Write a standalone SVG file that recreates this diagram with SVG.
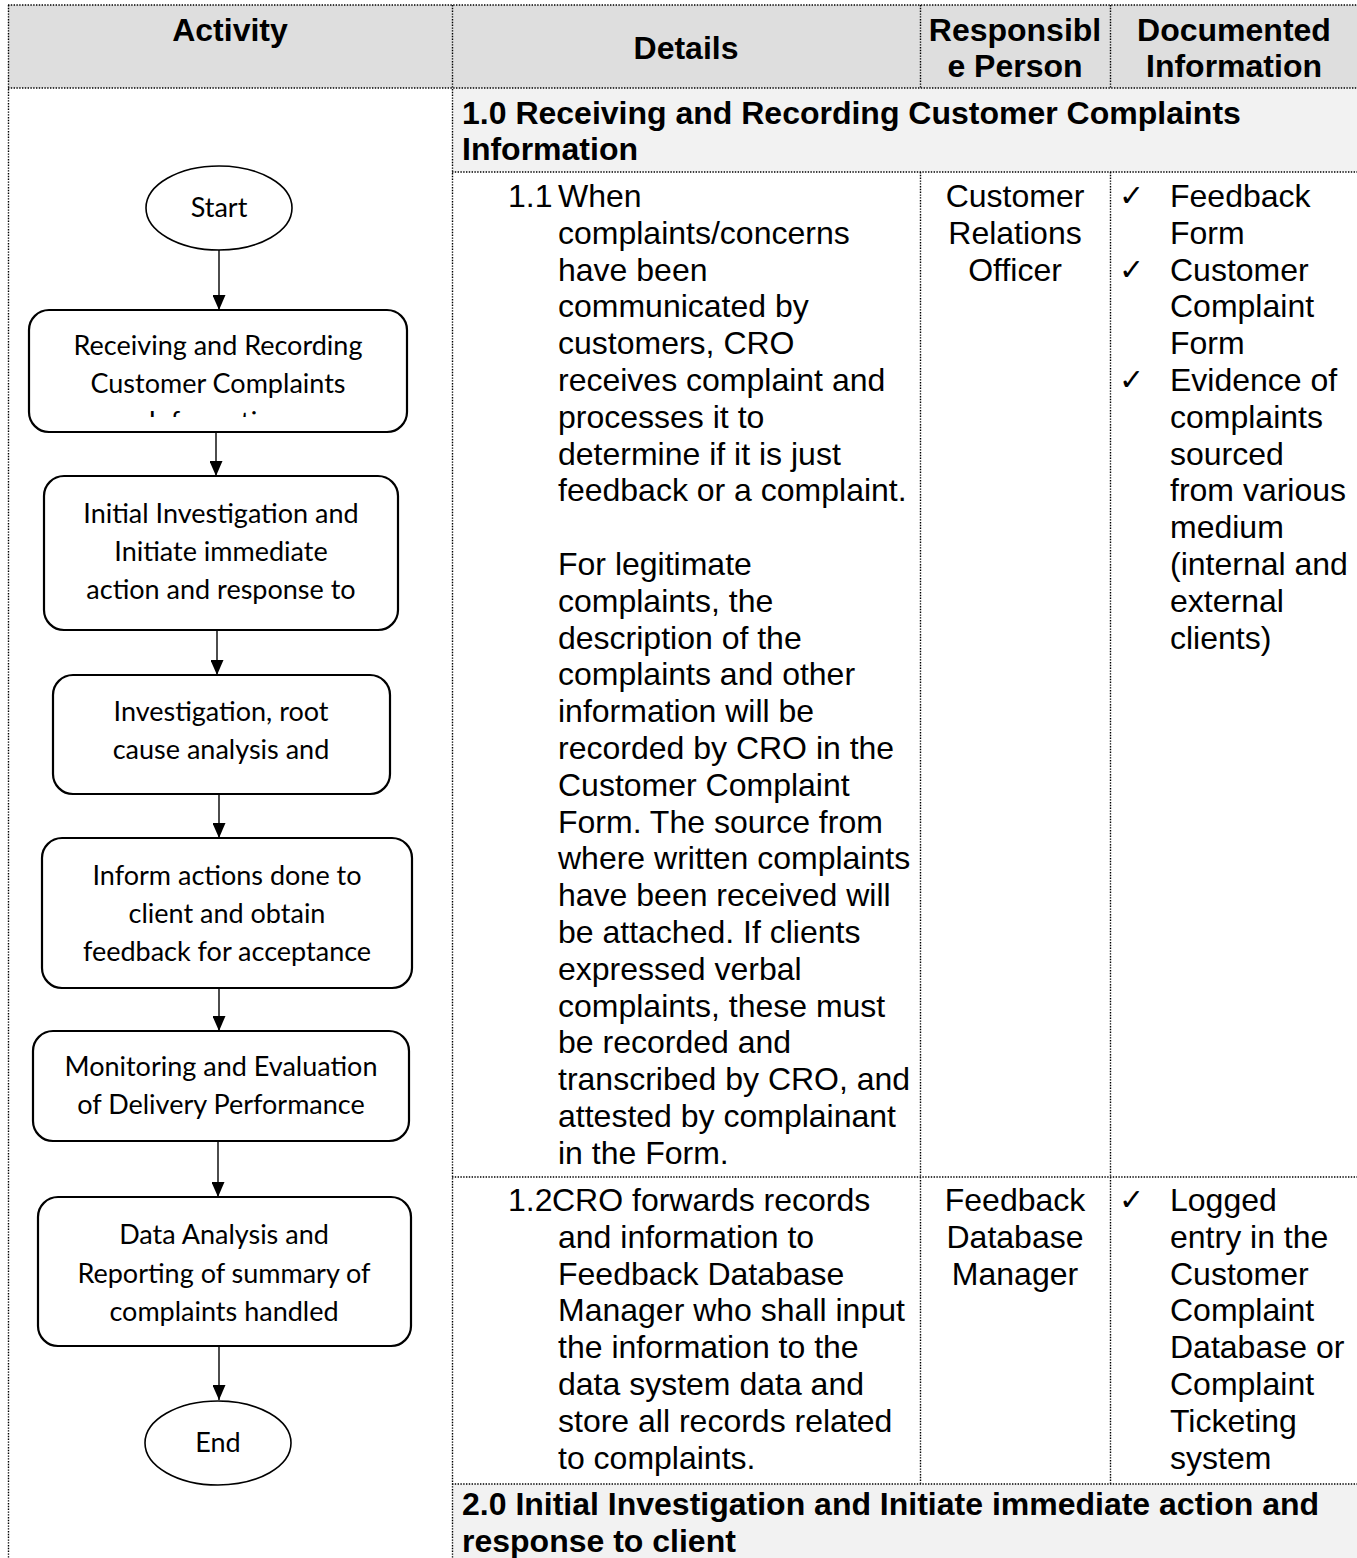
<svg xmlns="http://www.w3.org/2000/svg" width="1357" height="1558" viewBox="0 0 1357 1558">
<style>
.grid{stroke:#000;stroke-width:1.4;stroke-dasharray:1.4 1.4;fill:none}
.hdr{font-family:"Liberation Sans",Arial,sans-serif;font-size:32px;font-weight:bold;fill:#000}
.t{font-family:"Liberation Sans",Arial,sans-serif;font-size:32px;fill:#000}
.c{text-anchor:middle}
.chk{font-family:"DejaVu Sans",sans-serif;font-size:30px;fill:#000}
.fc{font-family:Lato,"Open Sans",sans-serif;font-size:27px;fill:#000;text-anchor:middle}
.box{fill:#fff;stroke:#000;stroke-width:2.2}
.ell{fill:#fff;stroke:#000;stroke-width:1.6}
.conn{stroke:#000;stroke-width:1.4;fill:none}
</style>
<defs>
<marker id="ah" viewBox="0 0 15 13" refX="15" refY="6.5" markerWidth="15" markerHeight="13" markerUnits="userSpaceOnUse" orient="auto">
<path d="M0,0 L15,6.5 L0,13 z" fill="#000"/>
</marker>
<clipPath id="clip1"><rect x="28" y="310" width="380" height="107"/></clipPath>
<clipPath id="clip2"><rect x="44" y="476" width="354" height="140"/></clipPath>
<clipPath id="clip3"><rect x="53" y="675" width="337" height="104"/></clipPath>
</defs>
<rect width="1357" height="1558" fill="#fff"/>
<g id="table">
<rect x="8" y="5" width="1349" height="83" fill="#dedede"/>
<rect x="452" y="88" width="905" height="84" fill="#f2f2f2"/>
<rect x="452" y="1484" width="905" height="74" fill="#f2f2f2"/>
<line class="grid" x1="8" y1="5" x2="1357" y2="5"/>
<line class="grid" x1="8" y1="88" x2="1357" y2="88"/>
<line class="grid" x1="452" y1="172" x2="1357" y2="172"/>
<line class="grid" x1="452" y1="1177" x2="1357" y2="1177"/>
<line class="grid" x1="452" y1="1484" x2="1357" y2="1484"/>
<line class="grid" x1="8.5" y1="5" x2="8.5" y2="1558"/>
<line class="grid" x1="452.5" y1="5" x2="452.5" y2="1558"/>
<line class="grid" x1="920.5" y1="5" x2="920.5" y2="88"/>
<line class="grid" x1="920.5" y1="172" x2="920.5" y2="1484"/>
<line class="grid" x1="1110.5" y1="5" x2="1110.5" y2="88"/>
<line class="grid" x1="1110.5" y1="172" x2="1110.5" y2="1484"/>
<text class="hdr c" x="230" y="41">Activity</text>
<text class="hdr c" x="686" y="59">Details</text>
<text class="hdr c" x="1015" y="41">Responsibl</text>
<text class="hdr c" x="1015" y="77">e Person</text>
<text class="hdr c" x="1234" y="41">Documented</text>
<text class="hdr c" x="1234" y="77">Information</text>
<text class="hdr" x="462" y="124">1.0 Receiving and Recording Customer Complaints</text>
<text class="hdr" x="462" y="160">Information</text>
<text class="t" x="508" y="207">1.1</text>
<text class="t" x="558" y="207">When</text>
<text class="t" x="558" y="243.8">complaints/concerns</text>
<text class="t" x="558" y="280.6">have been</text>
<text class="t" x="558" y="317.4">communicated by</text>
<text class="t" x="558" y="354.2">customers, CRO</text>
<text class="t" x="558" y="391">receives complaint and</text>
<text class="t" x="558" y="427.8">processes it to</text>
<text class="t" x="558" y="464.6">determine if it is just</text>
<text class="t" x="558" y="501.4">feedback or a complaint.</text>
<text class="t" x="558" y="575">For legitimate</text>
<text class="t" x="558" y="611.8">complaints, the</text>
<text class="t" x="558" y="648.6">description of the</text>
<text class="t" x="558" y="685.4">complaints and other</text>
<text class="t" x="558" y="722.2">information will be</text>
<text class="t" x="558" y="759">recorded by CRO in the</text>
<text class="t" x="558" y="795.8">Customer Complaint</text>
<text class="t" x="558" y="832.6">Form. The source from</text>
<text class="t" x="558" y="869.4">where written complaints</text>
<text class="t" x="558" y="906.2">have been received will</text>
<text class="t" x="558" y="943">be attached. If clients</text>
<text class="t" x="558" y="979.8">expressed verbal</text>
<text class="t" x="558" y="1016.6">complaints, these must</text>
<text class="t" x="558" y="1053.4">be recorded and</text>
<text class="t" x="558" y="1090.2">transcribed by CRO, and</text>
<text class="t" x="558" y="1127">attested by complainant</text>
<text class="t" x="558" y="1163.8">in the Form.</text>
<text class="t c" x="1015" y="207">Customer</text>
<text class="t c" x="1015" y="243.8">Relations</text>
<text class="t c" x="1015" y="280.6">Officer</text>
<text class="chk" x="1119" y="206">✓</text>
<text class="t" x="1170" y="207">Feedback</text>
<text class="t" x="1170" y="243.8">Form</text>
<text class="chk" x="1119" y="279.6">✓</text>
<text class="t" x="1170" y="280.6">Customer</text>
<text class="t" x="1170" y="317.4">Complaint</text>
<text class="t" x="1170" y="354.2">Form</text>
<text class="chk" x="1119" y="390">✓</text>
<text class="t" x="1170" y="391">Evidence of</text>
<text class="t" x="1170" y="427.8">complaints</text>
<text class="t" x="1170" y="464.6">sourced</text>
<text class="t" x="1170" y="501.4">from various</text>
<text class="t" x="1170" y="538.2">medium</text>
<text class="t" x="1170" y="575">(internal and</text>
<text class="t" x="1170" y="611.8">external</text>
<text class="t" x="1170" y="648.6">clients)</text>
<text class="t" x="508" y="1211">1.2</text>
<text class="t" x="552" y="1211">CRO forwards records</text>
<text class="t" x="558" y="1247.8">and information to</text>
<text class="t" x="558" y="1284.6">Feedback Database</text>
<text class="t" x="558" y="1321.4">Manager who shall input</text>
<text class="t" x="558" y="1358.2">the information to the</text>
<text class="t" x="558" y="1395">data system data and</text>
<text class="t" x="558" y="1431.8">store all records related</text>
<text class="t" x="558" y="1468.6">to complaints.</text>
<text class="t c" x="1015" y="1211">Feedback</text>
<text class="t c" x="1015" y="1247.8">Database</text>
<text class="t c" x="1015" y="1284.6">Manager</text>
<text class="chk" x="1119" y="1210">✓</text>
<text class="t" x="1170" y="1211">Logged</text>
<text class="t" x="1170" y="1247.8">entry in the</text>
<text class="t" x="1170" y="1284.6">Customer</text>
<text class="t" x="1170" y="1321.4">Complaint</text>
<text class="t" x="1170" y="1358.2">Database or</text>
<text class="t" x="1170" y="1395">Complaint</text>
<text class="t" x="1170" y="1431.8">Ticketing</text>
<text class="t" x="1170" y="1468.6">system</text>
<text class="hdr" x="462" y="1515">2.0 Initial Investigation and Initiate immediate action and</text>
<text class="hdr" x="462" y="1552">response to client</text>
</g>
<g id="connectors">
<line class="conn" x1="219" y1="250" x2="219" y2="310" marker-end="url(#ah)"/>
<line class="conn" x1="216" y1="432" x2="216" y2="476" marker-end="url(#ah)"/>
<line class="conn" x1="217" y1="630" x2="217" y2="675" marker-end="url(#ah)"/>
<line class="conn" x1="219" y1="794" x2="219" y2="838" marker-end="url(#ah)"/>
<line class="conn" x1="219" y1="988" x2="219" y2="1031" marker-end="url(#ah)"/>
<line class="conn" x1="218" y1="1141" x2="218" y2="1197" marker-end="url(#ah)"/>
<line class="conn" x1="219" y1="1346" x2="219" y2="1400" marker-end="url(#ah)"/>
</g>
<g id="start">
<ellipse class="ell" cx="219" cy="208" rx="73" ry="42"/>
<text class="fc" x="219" y="217">Start</text>
</g>
<g id="step1">
<rect class="box" x="29" y="310" width="378" height="122" rx="20"/>
<g clip-path="url(#clip1)">
<text class="fc" x="218" y="355">Receiving and Recording</text>
<text class="fc" x="218" y="393">Customer Complaints</text>
<text class="fc" x="218" y="431">Information</text>
</g>
</g>
<g id="step2">
<rect class="box" x="44" y="476" width="354" height="154" rx="20"/>
<g clip-path="url(#clip2)">
<text class="fc" x="221" y="523">Initial Investigation and</text>
<text class="fc" x="221" y="561">Initiate immediate</text>
<text class="fc" x="221" y="599">action and response to</text>
</g>
</g>
<g id="step3">
<rect class="box" x="53" y="675" width="337" height="119" rx="20"/>
<g clip-path="url(#clip3)">
<text class="fc" x="221" y="721">Investigation, root</text>
<text class="fc" x="221" y="759">cause analysis and</text>
<text class="fc" x="221" y="799">corrective action</text>
</g>
</g>
<g id="step4">
<rect class="box" x="42" y="838" width="370" height="150" rx="20"/>
<text class="fc" x="227" y="885">Inform actions done to</text>
<text class="fc" x="227" y="923">client and obtain</text>
<text class="fc" x="227" y="961">feedback for acceptance</text>
</g>
<g id="step5">
<rect class="box" x="33" y="1031" width="376" height="110" rx="20"/>
<text class="fc" x="221" y="1076">Monitoring and Evaluation</text>
<text class="fc" x="221" y="1114">of Delivery Performance</text>
</g>
<g id="step6">
<rect class="box" x="38" y="1197" width="373" height="149" rx="20"/>
<text class="fc" x="224" y="1244">Data Analysis and</text>
<text class="fc" x="224" y="1283">Reporting of summary of</text>
<text class="fc" x="224" y="1321">complaints handled</text>
</g>
<g id="end">
<ellipse class="ell" cx="218" cy="1443" rx="73" ry="42"/>
<text class="fc" x="218" y="1452">End</text>
</g>
</svg>
